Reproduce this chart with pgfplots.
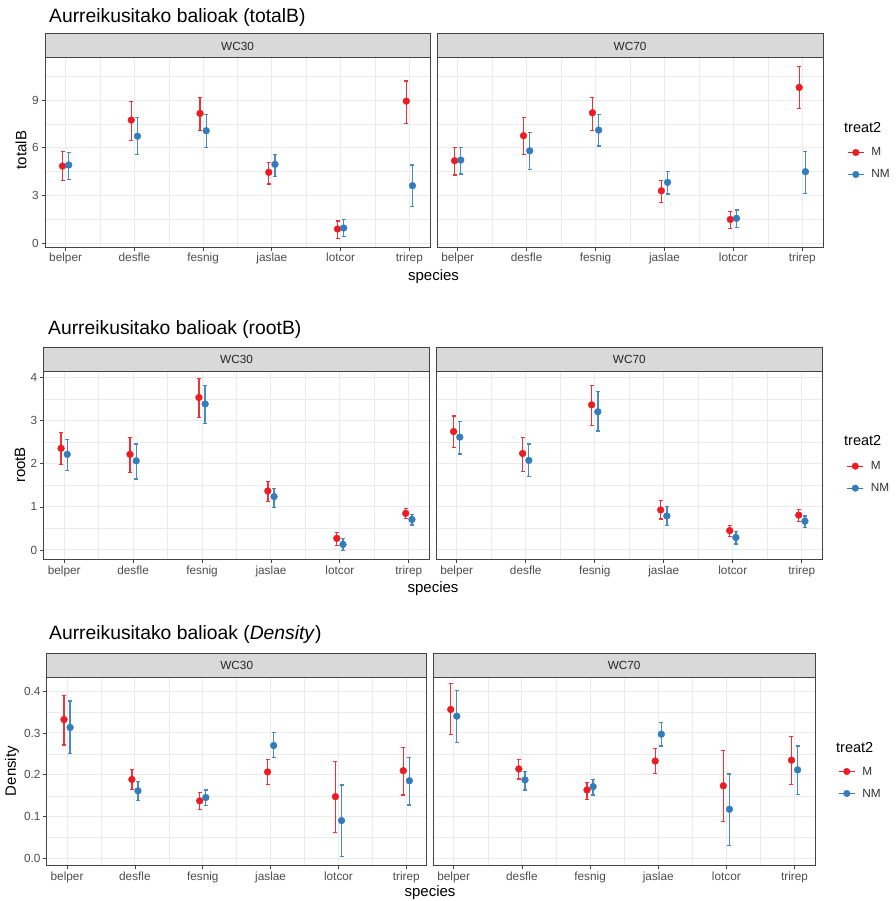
\documentclass[border=0pt]{standalone}
\usepackage{pgfplots}
\pgfplotsset{compat=1.18}
\usepackage{pgfplotstable}
\usepackage{fontspec}
\setmainfont{Liberation Sans}
\definecolor{cM}{HTML}{EC1C22}
\definecolor{cNM}{HTML}{337DBD}
\definecolor{gborder}{HTML}{444444}
\definecolor{gstrip}{HTML}{D9D9D9}
\definecolor{ggrid}{HTML}{EBEBEB}
\definecolor{gtick}{HTML}{4D4D4D}

% ---------- totalB ----------
\pgfplotstableread{
x y lo hi
0 4.85 3.95 5.75
1 7.74 6.48 8.93
2 8.16 7.07 9.16
3 4.46 3.72 5.08
4 0.90 0.31 1.40
5 8.93 7.53 10.20
}\tAaM
\pgfplotstableread{
x y lo hi
0 4.92 4.02 5.71
1 6.73 5.60 7.91
2 7.07 6.03 8.10
3 4.96 4.22 5.60
4 0.96 0.42 1.50
5 3.62 2.30 4.92
}\tAaN
\pgfplotstableread{
x y lo hi
0 5.19 4.29 6.03
1 6.76 5.59 7.91
2 8.20 7.11 9.18
3 3.30 2.57 3.97
4 1.50 0.94 1.99
5 9.79 8.45 11.13
}\tAbM
\pgfplotstableread{
x y lo hi
0 5.23 4.35 6.03
1 5.81 4.65 6.94
2 7.11 6.11 8.10
3 3.83 3.10 4.50
4 1.57 1.00 2.09
5 4.50 3.13 5.75
}\tAbN
% ---------- rootB ----------
\pgfplotstableread{
x y lo hi
0 2.36 1.99 2.72
1 2.22 1.80 2.61
2 3.54 3.08 3.98
3 1.37 1.13 1.59
4 0.27 0.10 0.41
5 0.85 0.73 0.97
}\tBaM
\pgfplotstableread{
x y lo hi
0 2.22 1.84 2.57
1 2.07 1.65 2.46
2 3.39 2.94 3.82
3 1.24 0.99 1.43
4 0.13 -0.02 0.27
5 0.71 0.58 0.83
}\tBaN
\pgfplotstableread{
x y lo hi
0 2.75 2.38 3.11
1 2.24 1.83 2.61
2 3.37 2.89 3.81
3 0.93 0.72 1.15
4 0.45 0.32 0.56
5 0.81 0.67 0.94
}\tBbM
\pgfplotstableread{
x y lo hi
0 2.62 2.23 2.98
1 2.08 1.70 2.46
2 3.21 2.76 3.67
3 0.79 0.56 1.01
4 0.29 0.14 0.43
5 0.67 0.52 0.79
}\tBbN
% ---------- Density ----------
\pgfplotstableread{
x y lo hi
0 0.332 0.271 0.390
1 0.189 0.165 0.212
2 0.138 0.118 0.157
3 0.207 0.177 0.237
4 0.148 0.063 0.231
5 0.210 0.152 0.265
}\tCaM
\pgfplotstableread{
x y lo hi
0 0.313 0.251 0.376
1 0.162 0.138 0.184
2 0.146 0.126 0.164
3 0.270 0.241 0.301
4 0.091 0.005 0.176
5 0.186 0.128 0.242
}\tCaN
\pgfplotstableread{
x y lo hi
0 0.356 0.297 0.417
1 0.214 0.190 0.237
2 0.164 0.142 0.182
3 0.233 0.204 0.262
4 0.174 0.088 0.258
5 0.235 0.177 0.291
}\tCbM
\pgfplotstableread{
x y lo hi
0 0.340 0.277 0.402
1 0.188 0.164 0.208
2 0.172 0.152 0.189
3 0.297 0.269 0.324
4 0.118 0.031 0.202
5 0.212 0.153 0.269
}\tCbN

\pgfplotsset{
  panel/.style={
    scale only axis, clip=false,
    xmin=-0.3, xmax=5.3,
    xtick={0,...,5},
    xticklabels={belper,desfle,fesnig,jaslae,lotcor,trirep},
    minor xtick={0.5,1.5,2.5,3.5,4.5},
    grid=both,
    major grid style={ggrid, line width=1pt},
    minor grid style={ggrid, line width=0.5pt},
    axis line style={gborder, line width=1pt},
    tick align=outside, tick pos=left,
    major tick length=3.5pt, minor tick length=0pt,
    tick style={gborder, line width=0.8pt},
    tick label style={font=\fontsize{11.8}{13}\selectfont, text=gtick},
    xticklabel style={inner sep=2.5pt},
    yticklabel style={inner sep=2.5pt},
    /pgf/number format/assume math mode=true,
    legend image code/.code={
      \draw[line width=1.2pt] (0pt,0pt) -- (16pt,0pt);
      \fill (8pt,0pt) circle (3.3pt);
    },
    legend style={draw=none, fill=none, inner sep=0pt,
      font=\fontsize{11.8}{13}\selectfont, text=black!80,
      nodes={inner sep=2pt, text height=8pt, text depth=1pt},
      row sep=9pt, /tikz/every odd column/.style={column sep=5pt}},
    legend cell align=left,
  },
  rightpanel/.style={yticklabels={}, ytick style={draw=none}},
}

\newcommand\strip[1]{%
  \filldraw[fill=gstrip, draw=gborder, line width=1pt]
    (rel axis cs:0,1) rectangle ([yshift=24pt]rel axis cs:1,1);
  \node[font=\fontsize{11.8}{13}\selectfont, text=black!85]
    at ([yshift=12pt]rel axis cs:0.5,1) {#1};
}
% #1 table, #2 colour, #3 dodge offset
\newcommand\series[3]{%
  \addplot[forget plot, draw=#2!90!white, line width=1.3pt, -,
    quiver={u=0, v=\thisrow{hi}-\thisrow{lo}}]
    table[x expr=\thisrow{x}#3, y=lo] {#1};
  \addplot[forget plot, only marks, mark=-, mark size=2pt,
    mark options={draw=#2!90!white, line width=1.2pt}]
    table[x expr=\thisrow{x}#3, y=lo] {#1};
  \addplot[forget plot, only marks, mark=-, mark size=2pt,
    mark options={draw=#2!90!white, line width=1.2pt}]
    table[x expr=\thisrow{x}#3, y=hi] {#1};
  \addplot[only marks, mark=*, mark size=3.4pt, draw=#2, fill=#2,
    mark options={draw=#2, fill=#2}]
    table[x expr=\thisrow{x}#3, y=y] {#1};
}

\begin{document}
\begin{tikzpicture}
\useasboundingbox (0pt,0pt) rectangle (895pt,-901pt);

% ================= Row 1: totalB =================
\node[anchor=west, inner sep=0pt, font=\fontsize{19.3}{22}\selectfont] at (49pt,-18pt) {Aurreikusitako balioak (totalB)};
\begin{axis}[panel, at={(45pt,-58pt)}, anchor=north west, width=385pt, height=189pt,
  ymin=-0.232, ymax=11.64, ytick={0,3,6,9}, minor ytick={1.5,4.5,7.5,10.5}]
  \strip{WC30}
  \series{\tAaM}{cM}{-0.045}
  \series{\tAaN}{cNM}{+0.045}
\end{axis}
\begin{axis}[panel, rightpanel, at={(437pt,-58pt)}, anchor=north west, width=386pt, height=189pt,
  ymin=-0.232, ymax=11.64, ytick={0,3,6,9}, minor ytick={1.5,4.5,7.5,10.5},
  legend style={at={(axis description cs:1,0.5)}, anchor=west, xshift=24pt, yshift=-11pt}]
  \strip{WC70}
  \series{\tAbM}{cM}{-0.045}
  \addlegendentry{M}
  \series{\tAbN}{cNM}{+0.045}
  \addlegendentry{NM}
\end{axis}
\node[anchor=west, inner sep=0pt, font=\fontsize{14.5}{16}\selectfont] at (844pt,-128pt) {treat2};
\node[rotate=90, font=\fontsize{15}{17}\selectfont] at (21pt,-150pt) {totalB};
\node[font=\fontsize{15}{17}\selectfont] at (433.5pt,-277pt) {species};

% ================= Row 2: rootB =================
\node[anchor=west, inner sep=0pt, font=\fontsize{19.3}{22}\selectfont] at (48pt,-330pt) {Aurreikusitako balioak (rootB)};
\begin{axis}[panel, at={(43.5pt,-371pt)}, anchor=north west, width=386pt, height=188.3pt,
  ymin=-0.216, ymax=4.155, ytick={0,1,2,3,4}, minor ytick={0.5,1.5,2.5,3.5}]
  \strip{WC30}
  \series{\tBaM}{cM}{-0.045}
  \series{\tBaN}{cNM}{+0.045}
\end{axis}
\begin{axis}[panel, rightpanel, at={(436pt,-371pt)}, anchor=north west, width=386.5pt, height=188.3pt,
  ymin=-0.216, ymax=4.155, ytick={0,1,2,3,4}, minor ytick={0.5,1.5,2.5,3.5},
  legend style={at={(axis description cs:1,0.5)}, anchor=west, xshift=24pt, yshift=-12pt}]
  \strip{WC70}
  \series{\tBbM}{cM}{-0.045}
  \addlegendentry{M}
  \series{\tBbN}{cNM}{+0.045}
  \addlegendentry{NM}
\end{axis}
\node[anchor=west, inner sep=0pt, font=\fontsize{14.5}{16}\selectfont] at (844pt,-441pt) {treat2};
\node[rotate=90, font=\fontsize{15}{17}\selectfont] at (20pt,-465pt) {rootB};
\node[font=\fontsize{15}{17}\selectfont] at (433pt,-589pt) {species};

% ================= Row 3: Density =================
\node[anchor=west, inner sep=0pt, font=\fontsize{19.3}{22}\selectfont] at (49pt,-635pt) {Aurreikusitako balioak (\textit{Density})};
\begin{axis}[panel, at={(46.7pt,-677.3pt)}, anchor=north west, width=380pt, height=188.4pt,
  ymin=-0.0167, ymax=0.4327, ytick={0,0.1,0.2,0.3,0.4}, minor ytick={0.05,0.15,0.25,0.35},
  yticklabel style={/pgf/number format/.cd, fixed, fixed zerofill, precision=1}]
  \strip{WC30}
  \series{\tCaM}{cM}{-0.045}
  \series{\tCaN}{cNM}{+0.045}
\end{axis}
\begin{axis}[panel, rightpanel, at={(433.3pt,-677.3pt)}, anchor=north west, width=381.7pt, height=188.4pt,
  ymin=-0.0167, ymax=0.4327, ytick={0,0.1,0.2,0.3,0.4}, minor ytick={0.05,0.15,0.25,0.35},
  legend style={at={(axis description cs:1,0.5)}, anchor=west, xshift=23pt, yshift=-11pt}]
  \strip{WC70}
  \series{\tCbM}{cM}{-0.045}
  \addlegendentry{M}
  \series{\tCbN}{cNM}{+0.045}
  \addlegendentry{NM}
\end{axis}
\node[anchor=west, inner sep=0pt, font=\fontsize{14.5}{16}\selectfont] at (836pt,-747pt) {treat2};
\node[rotate=90, font=\fontsize{15}{17}\selectfont] at (12pt,-771pt) {Density};
\node[font=\fontsize{15}{17}\selectfont] at (430pt,-893pt) {species};
\end{tikzpicture}
\end{document}
